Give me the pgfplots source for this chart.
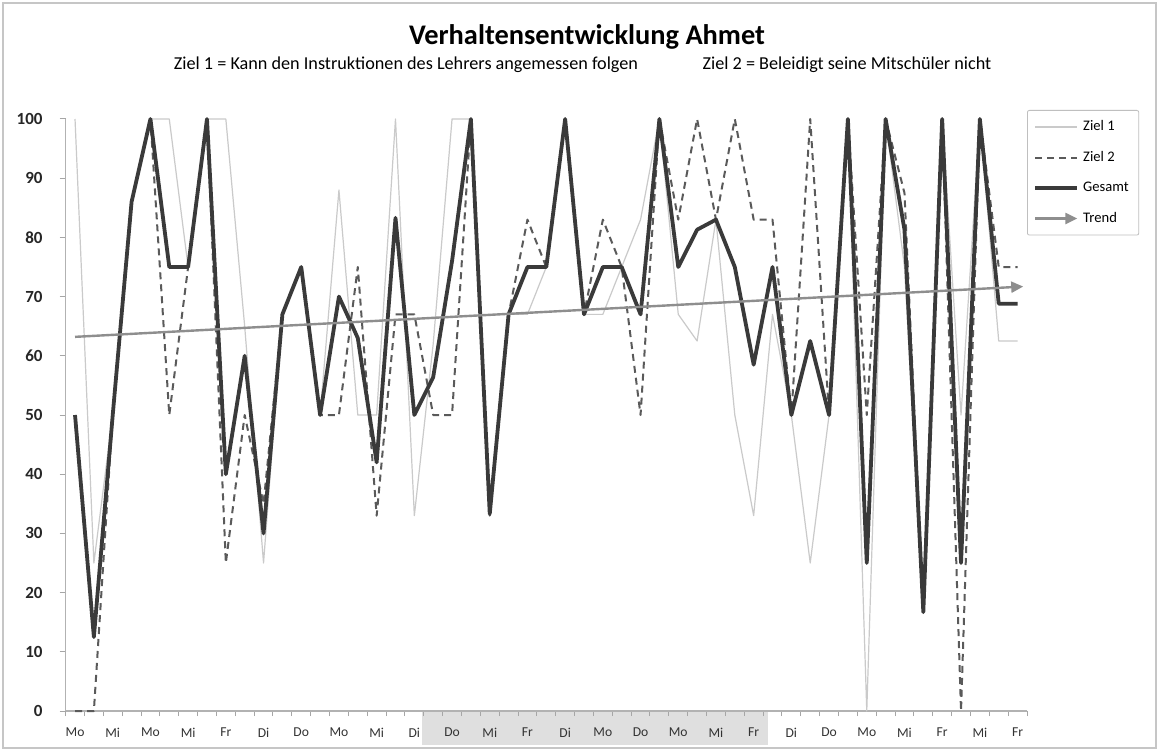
\documentclass[border=0pt]{standalone}
\usepackage{fontspec}
\setmainfont{Carlito}
\usepackage{pgfplots}
\usepackage{pgfplotstable}
\pgfplotsset{compat=1.18}
\usetikzlibrary{arrows.meta}

\definecolor{zielone}{HTML}{CACACA}
\definecolor{zieltwo}{HTML}{5A5A5A}
\definecolor{gesamt}{HTML}{3A3A3A}
\definecolor{trendc}{HTML}{8E8E8E}

\pgfplotstableread{
i z1 z2 g
0 100 0 50
1 25 0 12.5
2 50 50 50
3 86 86 86
4 100 100 100
5 100 50 75
6 75 75 75
7 100 100 100
8 100 25 40
9 65 50 60
10 25 35 30
11 67 67 67
12 75 75 75
13 50 50 50
14 88 50 70
15 50 75 63
16 50 33 42
17 100 67 83.3
18 33 67 50
19 62 50 56.4
20 100 50 76
21 100 100 100
22 33 33 33.3
23 67 67 67
24 67 83 75
25 75 75 75
26 100 100 100
27 67 67 67
28 67 83 75
29 75 75 75
30 83 50 67
31 100 100 100
32 67 83 75
33 62.5 100 81.3
34 83 83 83
35 50 100 75
36 33 83 58.5
37 67 83 75
38 50 50 50
39 25 100 62.5
40 50 50 50
41 100 100 100
42 0 50 25
43 100 100 100
44 75 87.5 81.3
45 16.7 16.7 16.7
46 100 100 100
47 50 0 25
48 100 100 100
49 62.5 75 68.8
50 62.5 75 68.8
}\datatable

\begin{document}
\begin{tikzpicture}[x=1pt,y=1pt]
\useasboundingbox (0,0) rectangle (579.5,375.5);
\fill[white] (0,0) rectangle (579.5,375.5);
\draw[gray!45, line width=0.8pt] (1.5,1.5) rectangle (578,374);
\fill[gray!25] (211,3) rectangle (384,19.5);
\node[font=\bfseries\fontsize{14.2}{16}\selectfont] at (293.5,357) {Verhaltensentwicklung Ahmet};
\node[font=\fontsize{9.1}{10}\selectfont] at (203,343) {Ziel 1 = Kann den Instruktionen des Lehrers angemessen folgen};
\node[font=\fontsize{9.1}{10}\selectfont] at (423.5,343) {Ziel 2 = Beleidigt seine Mitschüler nicht};
\begin{axis}[
  at={(32.8pt,20pt)}, anchor=south west,
  scale only axis, width=480.7pt, height=296pt,
  xmin=-0.5, xmax=50.5, ymin=0, ymax=100,
  clip=false,
  axis lines*=left,
  axis line style={gray!60, line width=0.6pt},
  tick align=outside,
  ytick={0,10,...,100},
  xtick={0,2,...,50},
  xticklabels={Mo,Mi,Mo,Mi,Fr,Di,Do,Mo,Mi,Di,Do,Mi,Fr,Di,Mo,Do,Mo,Mi,Fr,Di,Do,Mo,Mi,Fr,Mi,Fr},
  minor xtick={-0.5,0.5,...,50.5},
  major tick length=3pt, minor tick length=2.5pt,
  major x tick style={draw=none},
  minor x tick style={gray!70, line width=0.5pt},
  major y tick style={gray!70, line width=0.5pt},
  /pgf/number format/assume math mode=true,
  yticklabel style={font=\bfseries\fontsize{8.5}{9}\selectfont, text=black!85, xshift=-5pt},
  xticklabel style={font=\fontsize{6.8}{8}\selectfont, text=black!80, yshift=-2pt},
  legend cell align=left,
  legend style={at={(1,1)}, anchor=north west, yshift=4.5pt, draw=gray!50, rounded corners=1pt,
    font=\fontsize{7.3}{8}\selectfont, row sep=4.8pt, inner xsep=3pt, inner ysep=3pt},
  legend image code/.code={\draw[#1] (0pt,0pt) -- (21pt,0pt);},
]
\addplot[zielone, line width=0.6pt, line join=round] table[x=i,y=z1]{\datatable};
\addlegendentry{Ziel 1}
\addplot[zieltwo, line width=1pt, dash pattern=on 3.5pt off 2.5pt, line join=round] table[x=i,y=z2]{\datatable};
\addlegendentry{Ziel 2}
\addplot[gesamt, line width=1.9pt, line join=round] table[x=i,y=g]{\datatable};
\addlegendentry{Gesamt}
\addplot[trendc, line width=1.2pt, -{Triangle[length=6pt,width=5.5pt]}] coordinates {(0,63.2) (50.3,71.7)};
\addlegendentry{Trend}
\end{axis}
\end{tikzpicture}
\end{document}
